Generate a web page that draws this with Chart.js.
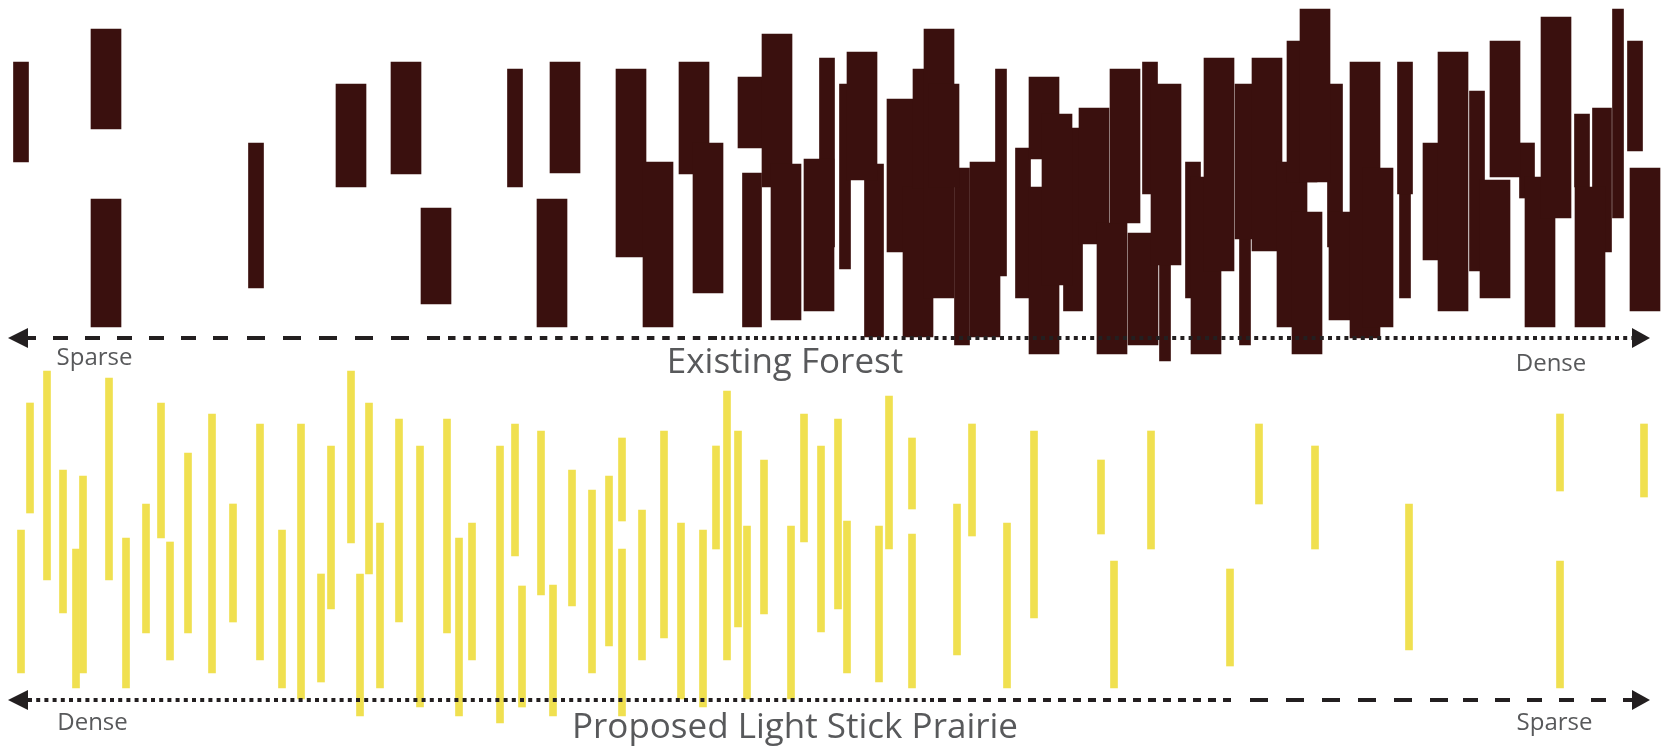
<!DOCTYPE html>
<html>
<head>
<meta charset="utf-8">
<title>Existing Forest / Proposed Light Stick Prairie</title>
<script src="https://cdn.jsdelivr.net/npm/chart.js@4.4.1/dist/chart.umd.min.js"></script>
<style>
    html, body { margin: 0; padding: 0; background: #fff; }
    #wrap { width: 1669px; height: 748px; }
</style>
</head>
<body>
<div id="wrap"><canvas id="transect" width="1669" height="748"></canvas></div>
<script>
// position along the transect, then [low, high] of each trunk / stick
// heights are measured from each panel's baseline arrow

// existing forest, trunks grouped by girth
const forestWide = [
    [106, 209, 309], [106, 11, 139], [351, 151, 254], [406, 164, 276], [436, 34, 130],
    [565, 165, 276], [552, 11, 139], [631, 81, 269], [658, 11, 176], [694, 164, 276],
    [708, 45, 195], [753, 190, 261], [777, 151, 304], [786, 18, 174], [819, 27, 179],
    [862, 158, 286], [902, 86, 239], [918, 1, 151], [928, 150, 269], [939, 40, 309],
    [944, 151, 254], [985, 1, 176], [1044, 179, 261], [1044, -16, 151], [1057, 53, 224],
    [1094, 94, 230], [1112, -16, 115], [1125, 115, 269], [1143, -7, 105], [1166, 73, 254],
    [1206, -16, 161], [1219, 67, 280], [1250, 99, 254], [1267, 87, 280], [1292, 11, 176],
    [1302, 156, 297], [1315, 156, 329], [1307, -16, 126], [1344, 18, 126], [1365, 0, 276],
    [1378, 11, 170], [1438, 78, 195], [1453, 27, 286], [1495, 40, 158], [1505, 161, 297],
    [1540, 11, 161], [1556, 120, 321], [1590, 11, 151], [1645, 27, 170]
];
const forestMedium = [
    [752, 11, 165], [874, 1, 174], [1073, 27, 210], [1602, 86, 230]
];
const forestNarrow = [
    [21, 176, 276], [256, 50, 195], [515, 151, 269], [827, 91, 280], [962, -7, 170],
    [1023, 40, 190], [1150, 144, 276], [1193, 40, 176], [1335, 91, 254], [1405, 144, 276],
    [1477, 67, 247], [1527, 140, 195], [1582, 151, 224], [1635, 187, 297]
];
const forestThin = [
    [845, 69, 254], [1001, 62, 269], [1165, -23, 73], [1245, -7, 99], [1405, 40, 144],
    [1618, 120, 329]
];

// proposed light sticks
const prairieSticks = [
    [21, 27, 170], [30, 187, 297], [47, 120, 329], [63, 87, 230], [76, 12, 151],
    [83, 27, 224], [109, 120, 322], [126, 12, 162], [146, 67, 196], [161, 162, 297],
    [170, 40, 158], [188, 67, 247], [212, 27, 286], [233, 78, 196], [260, 40, 276],
    [282, 12, 170], [301, 1, 276], [321, 18, 126], [331, 91, 254], [351, 157, 329],
    [360, -16, 126], [369, 126, 297], [380, 12, 177], [399, 78, 281], [420, -7, 254],
    [447, 67, 281], [459, -16, 162], [472, 40, 177], [500, -23, 254], [515, 144, 276],
    [522, -7, 114], [541, 105, 269], [553, -16, 115], [572, 94, 230], [592, 27, 210],
    [609, 54, 224], [622, 179, 262], [622, -16, 151], [642, 40, 190], [664, 62, 269],
    [681, 1, 177], [703, -7, 170], [716, 151, 254], [727, 40, 309], [738, 73, 269],
    [747, 1, 174], [764, 86, 240], [791, 1, 174], [804, 158, 286], [821, 68, 254],
    [838, 91, 281], [847, 27, 179], [879, 18, 174], [889, 151, 304], [912, 191, 262],
    [912, 12, 166], [957, 45, 196], [972, 164, 276], [1007, 12, 177], [1034, 82, 269],
    [1101, 166, 240], [1114, 12, 139], [1151, 151, 269], [1230, 34, 131], [1259, 196, 276],
    [1315, 151, 254], [1409, 50, 196], [1560, 209, 286], [1560, 12, 139], [1644, 203, 276]
];

const forestLabels = ['Sparse', 'Existing Forest', 'Dense'];
const prairieLabels = ['Dense', 'Proposed Light Stick Prairie', 'Sparse'];

const FOREST = '#3a100e';
const PRAIRIE = '#f0e050';
const INK = '#231f20';
const LABEL = '#58595b';

// baseline arrow pieces: [from, to, dash, gap, offset]
const forestStrokes = [
    [28, 232, 15, 17, 7],
    [232, 440, 18, 18, 21],
    [448, 713, 7.5, 7.8, 0],
    [713, 1632, 4, 4.2, 0]
];
const prairieStrokes = [
    [28, 937, 4, 4.2, 0],
    [938, 1232, 8, 7, 0],
    [1250, 1450, 18, 18, 0],
    [1463, 1632, 15, 17, 0]
];

function toBars(rows) {
    return rows.map(r => ({ x: r[0], y: [r[1], r[2]] }));
}

function barSet(label, rows, color, thickness, axis) {
    return {
        label: label,
        data: toBars(rows),
        backgroundColor: color,
        borderWidth: 0,
        barThickness: thickness,
        grouped: false,
        yAxisID: axis
    };
}

function drawArrow(ctx, xs, ys, strokes) {
    const y = ys.getPixelForValue(0);
    ctx.save();
    ctx.strokeStyle = INK;
    ctx.lineWidth = 4;
    ctx.lineCap = 'butt';
    strokes.forEach(s => {
        ctx.setLineDash([s[2], s[3]]);
        ctx.lineDashOffset = s[4];
        ctx.beginPath();
        ctx.moveTo(xs.getPixelForValue(s[0]), y);
        ctx.lineTo(xs.getPixelForValue(s[1]), y);
        ctx.stroke();
    });
    ctx.setLineDash([]);
    ctx.fillStyle = INK;
    [[8, 28], [1650, 1632]].forEach(([tip, base]) => {
        ctx.beginPath();
        ctx.moveTo(xs.getPixelForValue(tip), y);
        ctx.lineTo(xs.getPixelForValue(base), y - 10);
        ctx.lineTo(xs.getPixelForValue(base), y + 10);
        ctx.closePath();
        ctx.fill();
    });
    ctx.restore();
}

const labelSpots = [
    { axis: 'yTop', text: forestLabels[0], x: 94.5, y: -27, size: 24 },
    { axis: 'yTop', text: forestLabels[1], x: 785, y: -35, size: 35 },
    { axis: 'yTop', text: forestLabels[2], x: 1551, y: -33, size: 24 },
    { axis: 'yBot', text: prairieLabels[0], x: 92.5, y: -30, size: 24 },
    { axis: 'yBot', text: prairieLabels[1], x: 795, y: -38, size: 35 },
    { axis: 'yBot', text: prairieLabels[2], x: 1554.5, y: -30, size: 24 }
];

const transectPlugin = {
    id: 'transect',
    afterDatasetsDraw(chart) {
        const ctx = chart.ctx;
        const xs = chart.scales.x;
        drawArrow(ctx, xs, chart.scales.yTop, forestStrokes);
        drawArrow(ctx, xs, chart.scales.yBot, prairieStrokes);

        ctx.save();
        ctx.fillStyle = LABEL;
        ctx.textAlign = 'center';
        ctx.textBaseline = 'alphabetic';
        labelSpots.forEach(l => {
            ctx.font = l.size + 'px "Open Sans", "Noto Sans", sans-serif';
            ctx.fillText(l.text, xs.getPixelForValue(l.x), chart.scales[l.axis].getPixelForValue(l.y));
        });
        ctx.restore();
    }
};

new Chart(document.getElementById('transect'), {
    type: 'bar',
    data: {
        datasets: [
            barSet('Existing forest', forestWide, FOREST, 30, 'yTop'),
            barSet('Existing forest', forestMedium, FOREST, 19, 'yTop'),
            barSet('Existing forest', forestNarrow, FOREST, 15, 'yTop'),
            barSet('Existing forest', forestThin, FOREST, 11, 'yTop'),
            barSet('Light sticks', prairieSticks, PRAIRIE, 7, 'yBot')
        ]
    },
    options: {
        responsive: false,
        animation: false,
        devicePixelRatio: 1,
        layout: { padding: 0 },
        plugins: {
            legend: { display: false },
            tooltip: { enabled: false }
        },
        scales: {
            x: { type: 'linear', min: 0, max: 1669, offset: false, display: false },
            yTop: { type: 'linear', min: -410, max: 338, display: false },
            yBot: { type: 'linear', min: -48, max: 700, display: false }
        }
    },
    plugins: [transectPlugin]
});
</script>
</body>
</html>
